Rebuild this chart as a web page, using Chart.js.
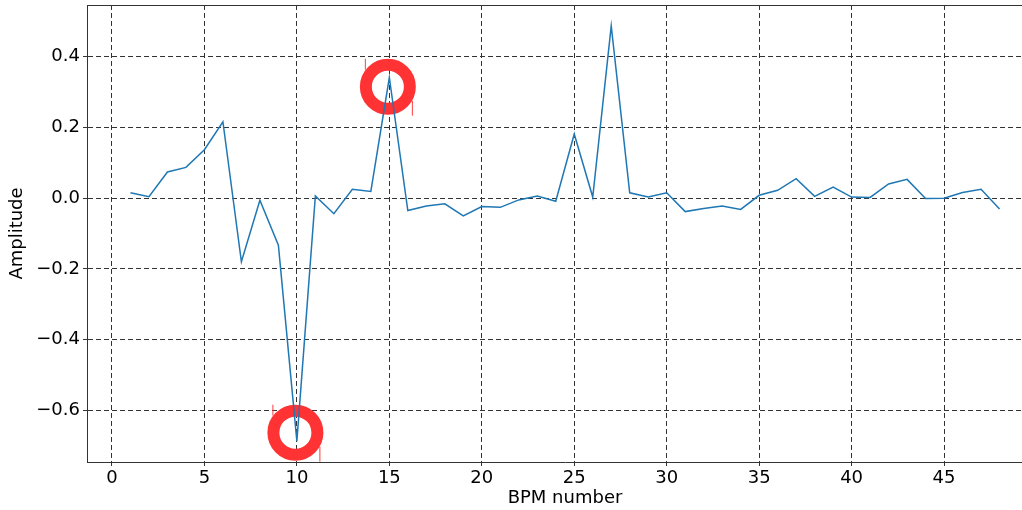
<!DOCTYPE html>
<html>
<head>
<meta charset="utf-8">
<script src="https://cdn.jsdelivr.net/npm/chart.js@4"></script>
<style>
  body { margin: 0; overflow: hidden; background: #fff; }
  #wrap { width: 1046px; height: 510px; position: relative; }
</style>
</head>
<body>
<div id="wrap"><canvas id="bpmChart"></canvas></div>
<script>
// BPM index and amplitude
const bpmNumber = [1, 2, 3, 4, 5, 6, 7, 8, 9, 10, 11, 12, 13, 14, 15, 16,
  17, 18, 19, 20, 21, 22, 23, 24, 25, 26, 27, 28, 29, 30, 31, 32,
  33, 34, 35, 36, 37, 38, 39, 40, 41, 42, 43, 44, 45, 46, 47, 48];
const amplitude = [0.015, 0.004, 0.074, 0.087, 0.137, 0.216, -0.180, -0.006,
  -0.133, -0.687, 0.006, -0.044, 0.025, 0.019, 0.341, -0.035,
  -0.022, -0.016, -0.050, -0.024, -0.026, -0.005, 0.006, -0.009,
  0.181, 0.003, 0.487, 0.015, 0.003, 0.015, -0.038, -0.029,
  -0.022, -0.032, 0.008, 0.022, 0.055, 0.005, 0.031, 0.003,
  0.002, 0.040, 0.053, -0.001, 0.000, 0.016, 0.025, -0.031];

// highlighted points (red rings)
const markX = [9.92, 14.92];
const markY = [-0.663, 0.315];

const xTicks = [0, 5, 10, 15, 20, 25, 30, 35, 40, 45];
const yTicks = [-0.6, -0.4, -0.2, 0.0, 0.2, 0.4];

const gridStyle = { color: '#333', lineWidth: 1, tickLength: 4, tickBorderDash: [], tickColor: '#333' };
const borderStyle = { color: '#333', width: 1, dash: [5, 3] };

// top spine + the little red strokes beside each ring
const extras = {
  id: 'extras',
  afterDatasetsDraw(chart) {
    const { ctx, chartArea } = chart;
    ctx.save();
    ctx.strokeStyle = '#333';
    ctx.lineWidth = 1;
    ctx.beginPath();
    ctx.moveTo(chartArea.left, chartArea.top + 0.5);
    ctx.lineTo(chartArea.right, chartArea.top + 0.5);
    ctx.moveTo(chartArea.right - 0.5, chartArea.top);
    ctx.lineTo(chartArea.right - 0.5, chartArea.bottom);
    ctx.stroke();

    ctx.strokeStyle = '#ff3b3b';
    chart.getDatasetMeta(1).data.forEach(pt => {
      ctx.beginPath();
      ctx.moveTo(pt.x - 22.5, pt.y - 28);
      ctx.lineTo(pt.x - 22.5, pt.y - 17);
      ctx.moveTo(pt.x + 24.5, pt.y + 14);
      ctx.lineTo(pt.x + 24.5, Math.min(pt.y + 29, chartArea.bottom));
      ctx.stroke();
    });
    ctx.restore();
  }
};

new Chart(document.getElementById('bpmChart'), {
  type: 'line',
  data: {
    datasets: [{
      data: bpmNumber.map((b, i) => ({ x: b, y: amplitude[i] })),
      borderColor: '#1f77b4',
      borderWidth: 1.5,
      pointRadius: 0,
      tension: 0,
      fill: false
    }, {
      data: markX.map((x, i) => ({ x: x, y: markY[i] })),
      showLine: false,
      pointRadius: 22,
      pointBorderWidth: 12,
      pointBorderColor: '#ff3333',
      pointBackgroundColor: 'rgba(0,0,0,0)'
    }]
  },
  options: {
    responsive: true,
    maintainAspectRatio: false,
    animation: false,
    layout: { autoPadding: false, padding: { top: 5, right: 3, left: 0, bottom: 0 } },
    plugins: { legend: { display: false }, tooltip: { enabled: false } },
    scales: {
      x: {
        type: 'linear',
        min: -1.35,
        max: 50.35,
        afterBuildTicks: s => { s.ticks = xTicks.map(v => ({ value: v })); },
        afterFit: s => { s.height = 48; s.paddingLeft = 0; s.paddingRight = 0; },
        grid: gridStyle,
        border: borderStyle,
        ticks: { color: '#000', padding: 2, font: { family: 'DejaVu Sans', size: 18 }, maxRotation: 0 },
        title: { display: true, text: 'BPM number', color: '#000',
                 font: { family: 'DejaVu Sans', size: 18 }, padding: { top: 0, bottom: 1 } }
      },
      y: {
        min: -0.746,
        max: 0.546,
        afterBuildTicks: s => { s.ticks = yTicks.map(v => ({ value: v })); },
        afterFit: s => { s.width = 87; s.paddingTop = 0; s.paddingBottom = 0; },
        grid: gridStyle,
        border: borderStyle,
        ticks: {
          color: '#000', padding: 3, font: { family: 'DejaVu Sans', size: 18 },
          callback: v => v.toFixed(1).replace('-', '\u2212')
        },
        title: { display: true, text: 'Amplitude', color: '#000',
                 font: { family: 'DejaVu Sans', size: 18 }, padding: { top: 7, bottom: 0 } }
      }
    }
  },
  plugins: [extras]
});
</script>
</body>
</html>
